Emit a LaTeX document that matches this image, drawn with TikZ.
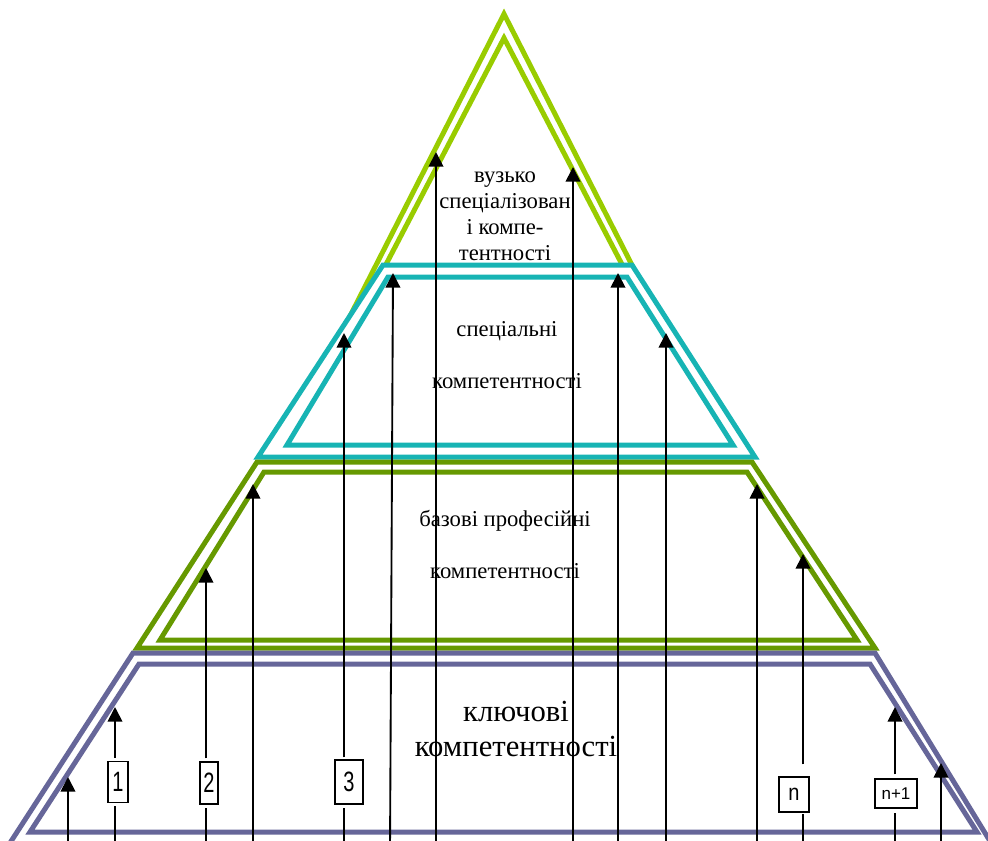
\documentclass[tikz,border=0pt]{standalone}
\usepackage{fontspec}
\usepackage{graphicx}
\setmainfont{Liberation Serif}
\newfontfamily\boxfont{Liberation Sans}
\usetikzlibrary{arrows.meta}
\definecolor{limeC}{HTML}{99CC00}
\definecolor{cyanC}{HTML}{17B4B4}
\definecolor{greenC}{HTML}{669900}
\definecolor{purpleC}{HTML}{666699}
\begin{document}
\begin{tikzpicture}[x=0.75pt,y=-0.75pt,
  layer/.style={line width=3.75pt, line join=miter},
  shaft/.style={line width=1.4pt},
  arr/.style={line width=1.4pt, -{Triangle[length=11pt,width=11pt]}},
  numbox/.style={draw, line width=1.1pt, fill=white, inner sep=0pt, font=\boxfont\fontsize{15}{15}\selectfont},
  lbl/.style={align=center, inner sep=0pt}]
\clip (0,0) rectangle (988,840);
% lime triangle (top)
\draw[layer, draw=limeC] (347,322) -- (504,14) -- (661,322);
\draw[layer, draw=limeC] (356,322) -- (504,38) -- (652,322);
% cyan trapezoid
\draw[layer, draw=cyanC, fill=white] (383,265) -- (632,265) -- (755,457) -- (258,457) -- cycle;
\draw[layer, draw=cyanC] (388,277) -- (627,277) -- (733,445) -- (287,445) -- cycle;
% green trapezoid
\draw[layer, draw=greenC, fill=white] (257,462) -- (752,462) -- (875,648) -- (137,648) -- cycle;
\draw[layer, draw=greenC] (264,472) -- (747,472) -- (857,640) -- (160,640) -- cycle;
% purple trapezoid
\draw[layer, draw=purpleC, fill=white] (133,653) -- (875,653) -- (993,846) -- (8,846) -- cycle;
\draw[layer, draw=purpleC] (139,664) -- (870,664) -- (977,832) -- (30,832) -- cycle;
% labels
\node[lbl, font=\fontsize{17}{19.5}\selectfont] (l1) at (505,216) {вузько\\спеціалізован\\і компе-\\тентності};
\node[lbl, font=\fontsize{17}{39}\selectfont] (l2) at (507,355) {спеціальні\\компетентності};
\node[lbl, font=\fontsize{17}{39}\selectfont] (l3) at (505,544) {базові професійні\\компетентності};
\node[lbl, font=\fontsize{23}{26}\selectfont] (l4) at (516,729) {ключові\\компетентності};
% arrow coordinates
\foreach \i/\xb/\xt/\ty in {1/68/68/777, 2/115/115/707, 3/206/206/568, 4/253/253/484,
  5/344/344/333, 6/390/393/273, 7/436/436/152, 8/573/573/167, 9/618/618/273,
  10/666/666/333, 11/757/757/484, 12/803/803/554, 13/895/895/707, 14/941/941/763}
  {\coordinate (s\i) at (\xb,850); \coordinate (t\i) at (\xt,\ty);}
% number boxes
\node[numbox, minimum width=15pt, minimum height=30.75pt] (b1) at (118,782) {\scalebox{1}[1.4]{1}};
\node[numbox, minimum width=13.5pt, minimum height=31.5pt] (b2) at (209,783) {\scalebox{1}[1.4]{2}};
\node[numbox, minimum width=21pt, minimum height=33pt] (b3) at (349,782) {\scalebox{1}[1.4]{3}};
\node[numbox, minimum width=22.5pt, minimum height=26.25pt] (bn) at (794,794.5) {\scalebox{1}[1.15]{n}};
\node[numbox, minimum width=31.5pt, minimum height=21.75pt, font=\boxfont\fontsize{12.75}{12.75}\selectfont] (bn1) at (896,793.5) {n+1};
% plain arrows
\foreach \i in {1,4,6,7,8,9,10,11,14} {\draw[arr] (s\i) -- (t\i);}
% boxed arrows
\draw[shaft, shorten >=2.25pt] (s2) -- (b1.south -| s2);
\draw[arr, shorten <=2.25pt] (b1.north -| s2) -- (t2);
\draw[shaft, shorten >=2.25pt] (s3) -- (b2.south -| s3);
\draw[arr, shorten <=2.25pt] (b2.north -| s3) -- (t3);
\draw[shaft, shorten >=2.25pt] (s5) -- (b3.south -| s5);
\draw[arr, shorten <=1.5pt] (b3.north -| s5) -- (t5);
\draw[shaft, shorten >=0.75pt] (s12) -- (bn.south -| s12);
\draw[arr, shorten <=9pt] (bn.north -| s12) -- (t12);
\draw[shaft, shorten >=3pt] (s13) -- (bn1.south -| s13);
\draw[arr, shorten <=3pt] (bn1.north -| s13) -- (t13);
\end{tikzpicture}
\end{document}
